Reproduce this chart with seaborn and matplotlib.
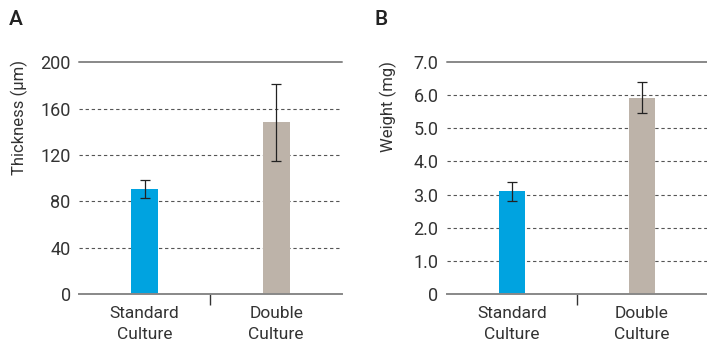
import matplotlib

matplotlib.use("Agg")
import matplotlib.pyplot as plt
import pandas as pd
import seaborn as sns
from matplotlib.ticker import FixedLocator

categories = ["Standard\nCulture", "Double\nCulture"]
thickness = [90.5, 148.0]
thickness_err = [7.5, 33.0]
weight = [3.10, 5.93]
weight_err = [0.29, 0.46]
thickness_ticks = [0, 40, 80, 120, 160, 200]
weight_ticks = [0, 1, 2, 3, 4, 5, 6, 7]
weight_ticklabels = ["0", "1.0", "2.0", "3.0", "4.0", "5.0", "6.0", "7.0"]

sns.set_theme(style="white")
plt.rcParams["font.family"] = ["Roboto", "DejaVu Sans"]

colors = ["#00A3E0", "#BDB3A9"]
text_color = "#333333"


def draw_panel(ax, values, errs, ticks, ticklabels, ymax):
    df = pd.DataFrame({"group": categories, "value": values})
    sns.barplot(data=df, x="group", y="value", hue="group", palette=colors,
                saturation=1, width=0.205, linewidth=0, legend=False, ax=ax, zorder=3)
    ax.errorbar(range(len(values)), values, yerr=errs, fmt="none",
                ecolor="#222222", elinewidth=0.9, capsize=3.6, capthick=0.9, zorder=4)
    ax.set_xlim(-0.5, 1.5)
    ax.set_ylim(0, ymax)
    ax.set_yticks(ticks)
    ax.set_yticklabels(ticklabels)
    for t in ticks[1:-1]:
        ax.axhline(t, color="#555555", linestyle=(0, (3, 2.5)), linewidth=0.8, zorder=1)
    ax.axhline(ticks[-1], color="#888888", linewidth=1.4, zorder=1, clip_on=False)
    for side in ["left", "right", "top"]:
        ax.spines[side].set_visible(False)
    ax.spines["bottom"].set_color("#888888")
    ax.spines["bottom"].set_linewidth(1.4)
    ax.spines["bottom"].set_zorder(5)
    ax.set_xlabel("")
    ax.set_ylabel("")
    ax.tick_params(axis="y", length=0, pad=6, labelsize=13, labelcolor=text_color)
    ax.tick_params(axis="x", which="major", length=0, pad=9, labelsize=12.5, labelcolor=text_color)
    for lab in ax.get_xticklabels():
        lab.set_linespacing(1.45)
    ax.xaxis.set_minor_locator(FixedLocator([0.5]))
    ax.tick_params(axis="x", which="minor", direction="out", length=8, width=1.0,
                   color="#333333", bottom=True)


fig = plt.figure(figsize=(7.07, 3.54), dpi=100)
ax_a = fig.add_axes([0.1117, 0.1695, 0.372, 0.655])
ax_b = fig.add_axes([0.632, 0.1695, 0.368, 0.655])

draw_panel(ax_a, thickness, thickness_err, thickness_ticks,
           [str(t) for t in thickness_ticks], 200)
draw_panel(ax_b, weight, weight_err, weight_ticks, weight_ticklabels, 7)

fig.text(0.028, 0.667, "Thickness (µm)", rotation=90, ha="center", va="center",
         fontsize=12, color=text_color)
fig.text(0.550, 0.698, "Weight (mg)", rotation=90, ha="center", va="center",
         fontsize=12, color=text_color)
fig.text(0.012, 0.945, "A", fontsize=15, fontweight="medium", color="#222222",
         ha="left", va="center")
fig.text(0.530, 0.945, "B", fontsize=15, fontweight="medium", color="#222222",
         ha="left", va="center")

fig.savefig("out.png", dpi=100)
plt.close(fig)
